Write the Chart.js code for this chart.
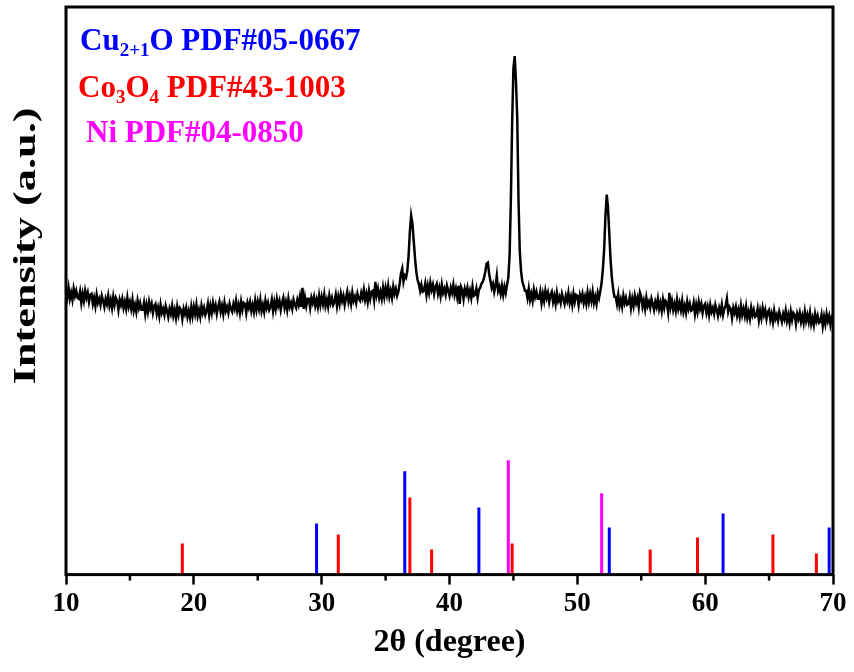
<!DOCTYPE html>
<html>
<head>
<meta charset="utf-8">
<style>html,body{margin:0;padding:0;background:#fff}canvas{display:block}</style>
<script src="https://cdn.jsdelivr.net/npm/chart.js@4.4.1/dist/chart.umd.min.js"></script>
</head>
<body>
<canvas id="c" width="854" height="672"></canvas>
<script>
// ---- data ----
const startAngle = 10.0;
const stepAngle = 0.1;
// XRD intensity (a.u.), one row per degree (10.0 ... 69.9), then 70.0
const intensity = [
284,277,286,275,281,274,285,278,283,276,
275,282,271,280,273,283,276,281,272,279,
280,270,276,268,279,271,275,269,278,273,
267,275,270,278,268,274,266,277,269,276,
273,264,274,269,275,266,272,265,276,267,
272,265,274,263,269,262,273,266,271,264,
264,271,260,269,262,272,265,270,261,268,
270,260,266,258,269,261,265,259,268,263,
257,265,260,268,258,264,256,267,259,266,
264,255,265,260,266,257,263,256,267,258,
267,260,269,258,264,257,268,261,266,259,
263,270,259,268,261,271,264,269,260,267,
272,262,268,260,271,263,267,261,270,265,
262,270,265,273,263,269,261,272,264,271,
270,261,271,266,272,263,269,262,273,264,
272,265,274,263,269,262,273,266,271,264,
267,274,263,272,265,275,268,273,264,271,
276,266,272,264,275,267,271,265,274,269,
266,274,269,277,267,286,265,276,268,275,
275,266,276,271,277,268,274,267,278,269,
277,270,279,268,274,267,278,271,276,269,
272,279,268,277,270,280,273,278,269,276,
282,272,278,270,281,273,277,271,280,275,
273,281,276,284,274,280,272,283,275,282,
283,274,292,279,285,276,282,275,286,277,
286,279,288,277,283,276,287,280,285,278,
282,290,300,305,292,298,296,303,318,342,
358,350,333,316,302,294,290,283,289,282,
283,290,279,288,281,291,284,289,280,287,
290,280,286,278,289,281,285,279,288,283,
278,286,281,289,279,285,277,288,270,287,
284,275,285,280,286,277,283,276,287,278,
279,285,276,284,286,290,292,296,302,310,
311,300,293,286,290,282,288,298,283,287,
280,288,279,287,281,289,296,318,373,450,
505,517,492,455,372,322,302,292,288,283,
283,276,285,274,280,273,284,277,282,275,
275,282,271,280,273,283,276,281,272,279,
282,272,278,270,281,273,277,271,280,275,
270,278,273,281,271,277,269,280,272,279,
278,269,279,274,280,271,277,270,281,272,
280,273,282,271,277,270,281,276,283,291,
305,325,358,379,366,340,314,296,285,277,
277,270,279,268,274,267,278,271,276,269,
270,277,266,275,268,278,271,276,267,281,
277,267,273,265,276,268,272,266,275,270,
264,272,267,275,265,271,263,274,266,273,
271,262,281,267,273,264,270,263,274,265,
271,264,273,262,268,261,272,265,270,263,
264,271,260,269,262,272,265,270,261,268,
270,261,267,259,269,262,266,260,269,264,
258,266,261,269,259,265,268,275,262,267,
265,256,266,261,267,258,264,257,268,259,
265,258,267,256,262,255,266,259,264,257,
258,265,254,263,256,266,259,264,255,262,
264,254,260,252,263,255,259,253,262,257,
252,260,255,263,253,259,251,262,254,261,
259,250,260,255,261,252,258,251,262,253,
259,252,261,250,256,249,260,253,258,251,
252,259,248,257,250,260,253,258,249,256,
253
];
// reference patterns: positions (2θ) and relative intensities
const cu2oPos  = [29.6, 36.5, 42.3, 52.5, 61.4, 69.7];
const cu2oInt  = [51, 103, 67, 47, 61, 47];
const co3o4Pos = [19.1, 31.3, 36.9, 38.6, 44.9, 55.7, 59.4, 65.3, 68.7];
const co3o4Int = [31, 40, 77, 25, 31, 25, 37, 40, 21];
const niPos    = [44.6, 51.9];
const niInt    = [114, 81];
const majorTicks = [10, 20, 30, 40, 50, 60, 70];
const minorTicks = [15, 25, 35, 45, 55, 65];

// ---- build datasets ----
const FONT = "'Liberation Serif','Times New Roman',serif";
const curve = intensity.map((v, i) => ({ x: +(startAngle + i * stepAngle).toFixed(1), y: v }));
function sticks(pos, val) {
  const out = [];
  pos.forEach((p, i) => { out.push({x: p, y: 0}); out.push({x: p, y: val[i]}); out.push({x: p, y: null}); });
  return out;
}
function stickDs(pos, val, color) {
  return { data: sticks(pos, val), borderColor: color, borderWidth: 3, pointRadius: 0, spanGaps: false, borderCapStyle: 'butt', tension: 0 };
}

const legendLines = [
  { color: '#0000FF', x: 80, y: 50, runs: [['Cu', 0], ['2+1', 1], ['O PDF#05-0667', 0]] },
  { color: '#FF0000', x: 78, y: 97, runs: [['Co', 0], ['3', 1], ['O', 0], ['4', 1], [' PDF#43-1003', 0]] },
  { color: '#FF00FF', x: 86, y: 142, runs: [['Ni PDF#04-0850', 0]] }
];

const decor = {
  id: 'decor',
  afterDatasetsDraw(chart) {
    const { ctx, chartArea: a, scales: { x } } = chart;
    ctx.save();
    ctx.strokeStyle = '#000';
    ctx.lineWidth = 3;
    ctx.strokeRect(a.left, a.top, a.right - a.left, a.bottom - a.top);
    ctx.lineWidth = 2.5;
    minorTicks.forEach(v => {
      const px = x.getPixelForValue(v);
      ctx.beginPath(); ctx.moveTo(px, a.bottom); ctx.lineTo(px, a.bottom + 6); ctx.stroke();
    });
    // legend text
    ctx.textBaseline = 'alphabetic';
    ctx.textAlign = 'left';
    legendLines.forEach(l => {
      let cx = l.x;
      ctx.fillStyle = l.color;
      l.runs.forEach(([t, sub]) => {
        ctx.font = sub ? `bold 19px ${FONT}` : `bold 31px ${FONT}`;
        ctx.fillText(t, cx, l.y + (sub ? 6 : 0));
        cx += ctx.measureText(t).width;
      });
    });
    // y axis title
    ctx.font = `bold 31px ${FONT}`;
    ctx.fillStyle = '#000';
    const t = 'Intensity (a.u.)';
    const w = ctx.measureText(t).width;
    ctx.translate(27, 246);
    ctx.rotate(-Math.PI / 2);
    ctx.scale(277 / w, 1);
    ctx.textAlign = 'center';
    ctx.textBaseline = 'middle';
    ctx.fillText(t, 0, 0);
    ctx.restore();
  }
};

new Chart(document.getElementById('c'), {
  type: 'line',
  data: {
    datasets: [
      { data: curve, borderColor: '#000', borderWidth: 2.5, pointRadius: 0, tension: 0 },
      stickDs(co3o4Pos, co3o4Int, '#FF0000'),
      stickDs(cu2oPos, cu2oInt, '#0000FF'),
      stickDs(niPos, niInt, '#FF00FF')
    ]
  },
  options: {
    responsive: false,
    animation: false,
    devicePixelRatio: 1,
    layout: { padding: { left: 66, right: 21, top: 7, bottom: 10 } },
    plugins: { legend: { display: false }, tooltip: { enabled: false } },
    scales: {
      x: {
        type: 'linear', min: 10, max: 70,
        afterBuildTicks: s => { s.ticks = majorTicks.map(v => ({ value: v })); },
        ticks: { color: '#000', font: { family: FONT, size: 27, weight: 'bold', lineHeight: 1.0 }, padding: 6, maxRotation: 0, autoSkip: false },
        grid: { drawOnChartArea: false, drawTicks: true, tickLength: 10, tickColor: '#000', tickWidth: 2.5 },
        border: { display: false },
        title: { display: true, text: '2θ (degree)', color: '#000', font: { family: FONT, size: 32, weight: 'bold' }, padding: { top: 0, bottom: 0 } }
      },
      y: { display: false, min: 0, max: 566 }
    }
  },
  plugins: [decor]
});
</script>
</body>
</html>
